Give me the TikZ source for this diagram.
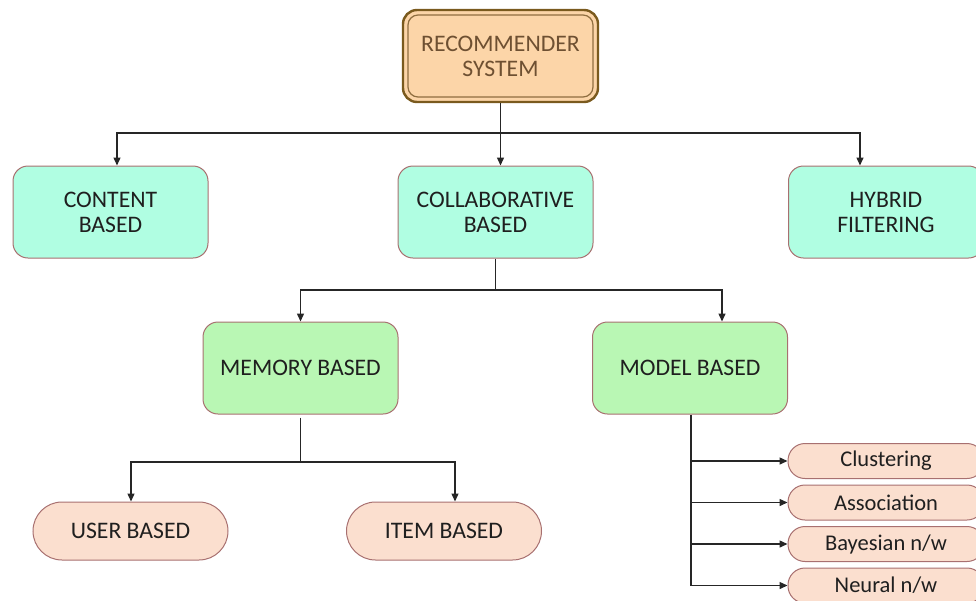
\documentclass[tikz,border=0pt]{standalone}
\usepackage{fontspec}
\setmainfont{Carlito}
\usetikzlibrary{arrows.meta}
\definecolor{rootfill}{HTML}{FCD5A8}
\definecolor{rootouter}{HTML}{7A5A1E}
\definecolor{rootinner}{HTML}{8F6E40}
\definecolor{roottext}{HTML}{6E5032}
\definecolor{aquafill}{HTML}{B0FEE2}
\definecolor{greenfill}{HTML}{B9F7B4}
\definecolor{peachfill}{HTML}{FBDFCF}
\definecolor{boxline}{HTML}{A87070}
\definecolor{wire}{HTML}{262626}
\tikzset{
  box/.style={draw=boxline, line width=1pt, rounded corners=15pt,
    minimum width=195pt, minimum height=92pt, align=center,
    text=black!88, font=\fontsize{23.7}{25}\selectfont},
  typebox/.style={box, fill=aquafill},
  cfbox/.style={box, fill=greenfill},
  leafbox/.style={box, fill=peachfill, rounded corners=29pt, minimum height=58pt},
  algbox/.style={box, fill=peachfill, rounded corners=17pt, minimum width=196pt,
    minimum height=35pt, inner sep=1pt, font=\fontsize{22.5}{25}\selectfont},
  wireline/.style={draw=wire, line width=1.4pt},
  arr/.style={wireline, -{Triangle[length=8pt,width=7pt]}},
}
\begin{document}
\begin{tikzpicture}[x=1pt,y=-1pt]
\useasboundingbox (0,0) rectangle (976,600);
\clip (0,0) rectangle (976,600);

% top node with a double frame
\node[draw=rootouter, line width=2.4pt, fill=rootfill, rounded corners=14pt,
  minimum width=195pt, minimum height=92pt] (root) at (500.5,56) {};
\node[draw=rootinner, line width=1.2pt, rounded corners=10pt,
  minimum width=185pt, minimum height=82pt, align=center, text=roottext,
  font=\fontsize{23.7}{25}\selectfont] (rootin) at (500.5,56) {RECOMMENDER\\SYSTEM};

% filtering families
\node[typebox] (content) at (110.5,212) {CONTENT\\BASED};
\node[typebox] (collab) at (495.5,212) {COLLABORATIVE\\BASED};
\node[typebox] (hybrid) at (886,212) {HYBRID\\FILTERING};

% collaborative sub-types
\node[cfbox] (memory) at (300.5,368) {MEMORY BASED};
\node[cfbox] (model) at (690,368) {MODEL BASED};

% memory based variants
\node[leafbox] (user) at (130.5,531) {USER BASED};
\node[leafbox] (item) at (444,531) {ITEM BASED};

% model based algorithms
\node[algbox] (clust) at (886,461) {Clustering};
\node[algbox] (assoc) at (886,502.5) {Association};
\node[algbox] (bayes) at (886,544) {Bayesian n/w};
\node[algbox] (neural) at (886,585.5) {Neural n/w};

% connectors from the top node
\coordinate (j1) at (500.5,133);
\draw[wireline] (root.south) -- (j1);
\draw[arr] (j1) -| ([xshift=6.5pt]content.north);
\draw[arr] (j1) -- ([xshift=5pt]collab.north);
\draw[arr] (j1) -| ([xshift=-26pt]hybrid.north);

% connectors from collaborative
\coordinate (j2) at (495.5,290);
\draw[wireline] (collab.south) -- (j2);
\draw[arr] (j2) -| (memory.north);
\draw[arr] (j2) -| ([xshift=32pt]model.north);

% connectors from memory based
\coordinate (j3) at (300.5,462);
\draw[wireline] ([yshift=-3pt]memory.south) -- (j3);
\draw[arr] (j3) -| ([xshift=0.5pt]user.north);
\draw[arr] (j3) -| ([xshift=11pt]item.north);

% connectors from model based
\coordinate (j4) at (691,585.5);
\draw[wireline] ([xshift=1pt]model.south) -- (j4);
\draw[arr] (clust.west -| j4) -- (clust.west);
\draw[arr] (assoc.west -| j4) -- (assoc.west);
\draw[arr] (bayes.west -| j4) -- (bayes.west);
\draw[arr] (j4) -- (neural.west);
\end{tikzpicture}
\end{document}
